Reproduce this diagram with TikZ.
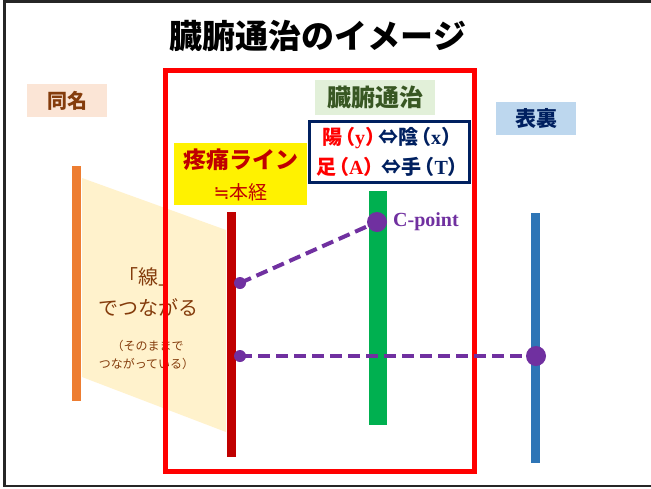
\documentclass[tikz,border=0pt]{standalone}
\usepackage{fontspec}
\setmainfont{Liberation Serif}
\newfontfamily\jp{Noto Sans CJK JP}
\newfontfamily\symf{DejaVu Sans}
\definecolor{brownT}{RGB}{132,60,12}
\definecolor{peachF}{RGB}{251,229,214}
\definecolor{trapF}{RGB}{255,242,204}
\definecolor{orangeB}{RGB}{237,125,49}
\definecolor{darkredB}{RGB}{192,0,0}
\definecolor{greenF}{RGB}{226,240,217}
\definecolor{greenT}{RGB}{56,87,35}
\definecolor{navyT}{RGB}{0,32,96}
\definecolor{greenB}{RGB}{0,176,80}
\definecolor{blueB}{RGB}{46,117,182}
\definecolor{blueF}{RGB}{189,215,238}
\definecolor{purpleL}{RGB}{112,48,160}
\newcommand{\lpar}{\kern-0.35em（}
\newcommand{\rpar}{）\kern-0.35em}
\begin{document}
\begin{tikzpicture}[x=1pt,y=-1pt,
  bar/.style={inner sep=0pt, draw=none},
  labbox/.style={inner sep=0pt, draw=none},
  pdash/.style={draw=purpleL, line width=4pt, dash pattern=on 12pt off 6pt},
  dot/.style={circle, fill=purpleL, inner sep=0pt, minimum size=#1},
  jtext/.style={font=\jp, inner sep=0pt}]
\useasboundingbox (0,0) rectangle (651,488);
\fill[white] (0,0) rectangle (651,488);
% frame
\draw[line width=2.5pt, black!85] (660,1.5) -- (4.5,1.5) -- (4.5,486) -- (660,486);
% title
\node[jtext, font=\jp\bfseries\fontsize{33}{36}\selectfont] (title) at (318,36) {臓腑通治のイメージ};
% trapezoid
\fill[trapF] (82,178) -- (226,230) -- (226,432) -- (82,377) -- cycle;
% labels boxes
\node[labbox, fill=peachF, minimum width=80pt, minimum height=33pt] (samebox) at (67,100.5) {};
\node[jtext, font=\jp\bfseries\fontsize{20}{24}\selectfont, text=brownT] (same) at (samebox) {同名};
\node[labbox, fill=greenF, minimum width=120pt, minimum height=35pt] (zfbox) at (375,97.5) {};
\node[jtext, font=\jp\bfseries\fontsize{24}{28}\selectfont, text=greenT] (zf) at (zfbox) {臓腑通治};
\node[labbox, fill=blueF, minimum width=80pt, minimum height=33pt] (hrbox) at (536,118.5) {};
\node[jtext, font=\jp\bfseries\fontsize{21}{24}\selectfont, text=navyT] (hr) at (hrbox) {表裏};
\node[labbox, fill=yellow, minimum width=133pt, minimum height=62pt] (ybox) at (240.5,174) {};
\node[jtext, font=\jp\bfseries\fontsize{23}{26}\selectfont, text=darkredB] (pain) at (240.5,160) {疼痛ライン};
\node[jtext, font=\jp\fontsize{19}{22}\selectfont, text=darkredB] (honkei) at (240.5,192) {{\symf ≒}本経};
\node[labbox, draw=navyT, line width=3pt, fill=white, minimum width=160pt, minimum height=61pt] (nbox) at (389,151.5) {};
\node[jtext, font=\jp\bfseries\fontsize{20}{24}\selectfont] (l1) at (388,138) {\textcolor{red}{陽\lpar{\rmfamily\bfseries y}\rpar}\textcolor{navyT}{⇔陰\lpar{\rmfamily\bfseries x}\rpar}};
\node[jtext, font=\jp\bfseries\fontsize{20}{24}\selectfont] (l2) at (388.5,167) {\textcolor{red}{足\lpar{\rmfamily\bfseries A}\rpar}\textcolor{navyT}{\kern0.25em⇔手\lpar{\rmfamily\bfseries T}\rpar}};
% trapezoid texts
\node[jtext, font=\jp\fontsize{20}{24}\selectfont, text=brownT] (sen) at (148,277) {「線」};
\node[jtext, font=\jp\fontsize{20}{24}\selectfont, text=brownT] (tsunagaru) at (148,308) {でつながる};
\node[jtext, font=\jp\fontsize{12}{14}\selectfont, text=brownT] (sono1) at (147.5,346) {（そのままで};
\node[jtext, font=\jp\fontsize{12}{14}\selectfont, text=brownT] (sono2) at (146.5,364) {つながっている）};
% bars
\node[bar, fill=orangeB, minimum width=9pt, minimum height=235pt] (samebar) at (76.5,283.5) {};
\draw[red, line width=5pt] (165.5,70) rectangle (474,471);
\node[bar, fill=darkredB, minimum width=9pt, minimum height=245pt] (painbar) at (231,334.5) {};
\node[bar, fill=greenB, minimum width=18pt, minimum height=234pt] (greenbar) at (377.5,308) {};
\node[bar, fill=blueB, minimum width=9pt, minimum height=250pt] (bluebar) at (535.5,338) {};
% connectors
\coordinate (p1) at (240,283);
\coordinate (cpt) at (377,222);
\coordinate (p2) at (240,356);
\coordinate (p3) at (536,356);
\draw[pdash] (p1) -- (cpt);
\draw[pdash] (p2) -- (p3);
\node[dot=12pt] (d1) at (p1) {};
\node[dot=12pt] (d2) at (p2) {};
\node[dot=20pt] (dc) at (cpt) {};
\node[dot=20pt] (d3) at (p3) {};
\node[anchor=west, inner sep=0pt, text=purpleL, font=\bfseries\fontsize{20}{24}\selectfont] (cptlab) at (393,222) {C-point};
\end{tikzpicture}
\end{document}
